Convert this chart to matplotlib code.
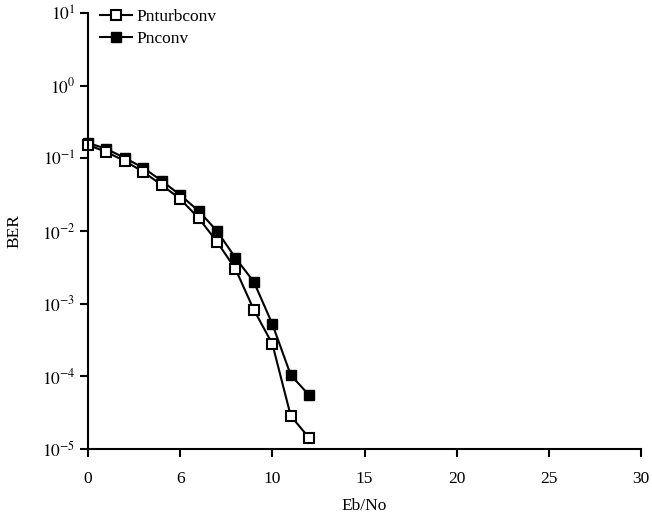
import matplotlib
matplotlib.use("Agg")
import matplotlib.pyplot as plt

plt.rcParams["font.family"] = ["Liberation Serif", "DejaVu Serif"]
plt.rcParams["mathtext.fontset"] = "stix"

# Data
ebno = [0, 1, 2, 3, 4, 5, 6, 7, 8, 9, 10, 11, 12]
ber_turbo = [0.153, 0.122, 0.092, 0.065, 0.043, 0.0276, 0.0151, 0.0071,
             0.0030, 0.00082, 0.00028, 2.85e-5, 1.42e-5]
ber_conv = [0.163, 0.135, 0.101, 0.074, 0.049, 0.0313, 0.0189, 0.0100,
            0.00426, 0.00199, 0.000525, 0.000104, 5.5e-5]

x_ticks = [0, 5, 10, 15, 20, 25, 30]
x_tick_labels = ["0", "6", "10", "15", "20", "25", "30"]
y_ticks = [10.0 ** k for k in range(-5, 2)]
y_tick_labels = [r"$10^{%d}$" % k for k in range(-5, 2)]

fig = plt.figure(figsize=(6.52, 5.20), dpi=100)
ax = fig.add_axes([88 / 652, 71 / 520, 553 / 652, 436 / 520])

ax.plot(ebno, ber_turbo, color="black", lw=1.5, marker="s", markersize=7.5,
        markerfacecolor="white", markeredgecolor="black", markeredgewidth=1.5,
        label="Pnturbconv", zorder=3)
ax.plot(ebno, ber_conv, color="black", lw=1.5, marker="s", markersize=7.5,
        markerfacecolor="black", markeredgecolor="black",
        label="Pnconv", zorder=2)

ax.set_yscale("log")
ax.set_ylim(1e-5, 10)
ax.set_xlim(0, 30)
ax.set_yticks(y_ticks)
ax.set_yticklabels(y_tick_labels)
ax.minorticks_off()
ax.set_xticks(x_ticks)
ax.set_xticklabels(x_tick_labels)

for side in ["top", "right"]:
    ax.spines[side].set_visible(False)
for side in ["left", "bottom"]:
    ax.spines[side].set_linewidth(1.5)
    ax.spines[side].set_zorder(5)
ax.tick_params(axis="both", direction="out", length=6, width=1.5,
               labelsize=12.5, pad=3)
ax.tick_params(axis="x", pad=10)

ax.set_xlabel("Eb/No", fontsize=12.5, labelpad=8)
ax.set_ylabel("BER", fontsize=12.5, labelpad=14)

ax.legend(loc="upper left", bbox_to_anchor=(0.01, 1.025), frameon=False,
          fontsize=12.5, handlelength=1.8, handletextpad=0.3, labelspacing=0.35,
          borderaxespad=0)

for line in ax.get_lines():
    line.set_clip_on(False)

fig.savefig("out.png", dpi=100)
